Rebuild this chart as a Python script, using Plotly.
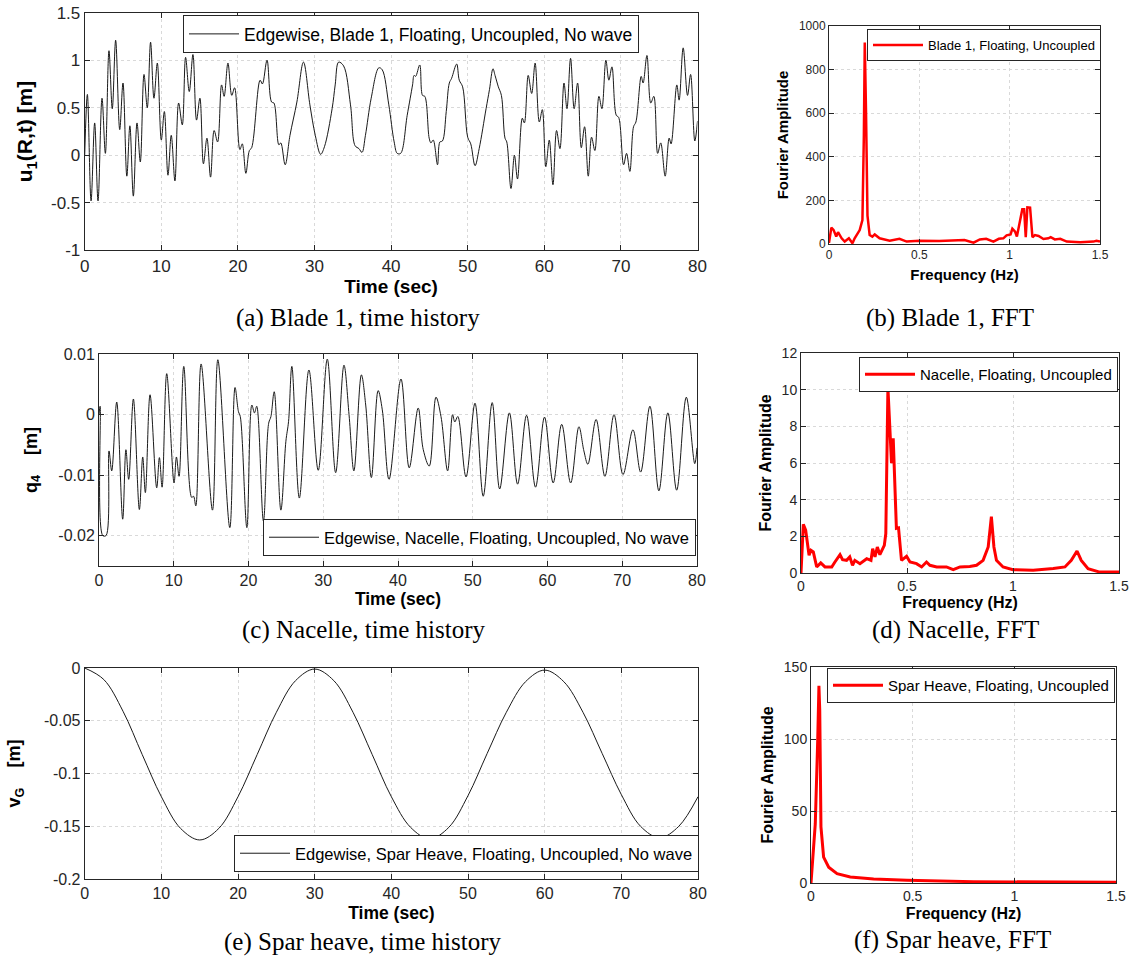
import plotly.graph_objects as go

W, H = 1134, 959

# ---------------- data ----------------
blade_t = [0, 0.35, 0.83, 1.3, 1.74, 2.26, 2.7, 3.17, 3.6, 4.04, 4.57, 5.0, 5.5, 5.9, 6.35, 6.83, 7.26, 7.74,
           8.17, 8.6, 9.04, 9.48, 10.0, 10.4, 10.87, 11.3, 11.78, 12.26, 12.74, 13.17, 13.65, 14.13, 14.6, 15.04,
           15.5, 15.96, 16.43, 16.9, 17.35, 17.87, 18.2, 18.7, 19.2, 19.57, 20.26, 20.57, 21.04, 21.5, 21.8, 22.9,
           23.2, 23.8, 24.4, 24.7, 25.35, 25.6, 26.17, 26.8, 27.7, 28.56, 29.4, 30.1, 30.8, 31.3, 32.3, 32.7,
           33.15, 33.8, 34.7, 35.3, 35.8, 36.2, 36.65, 37.4, 38.4, 38.84, 39.7, 40.4, 40.8, 41.25, 42.1, 42.8,
           43.0, 43.2, 43.74, 44.1, 44.4, 44.97, 45.2, 45.5, 46.06, 46.37, 46.7, 47.2, 47.6, 47.9, 48.56, 48.9,
           49.34, 50.0, 50.4, 50.96, 51.5, 52.4, 52.84, 53.3, 53.57, 54.0, 54.4, 54.87, 55.1, 55.65, 56.1, 56.5,
           57.13, 57.4, 57.9, 58.35, 58.8, 59.35, 59.74, 60.2, 60.65, 61.13, 61.6, 62.04, 62.57, 62.96, 63.43,
           63.9, 64.35, 64.83, 65.26, 65.74, 66.17, 66.6, 67.13, 67.52, 68.04, 68.43, 68.83, 69.4, 69.7, 70.35,
           70.74, 71.17, 71.65, 71.96, 72.65, 72.9, 73.4, 73.9, 74.3, 74.8, 75.2, 75.78, 76.3, 76.55, 77.3, 77.6,
           78.13, 78.7, 79.1, 79.65, 80.0]
blade_u = [0.0, 0.64, -0.48, 0.34, -0.48, 0.60, 0.02, 1.10, 0.49, 1.21, 0.27, 0.76, -0.22, 0.31, -0.43, 0.34,
           -0.07, 0.85, 0.50, 1.19, 0.60, 0.97, 0.16, 0.46, -0.21, 0.21, -0.27, 0.55, 0.32, 1.03, 0.67, 1.06,
           0.37, 0.60, -0.09, 0.18, -0.23, 0.26, 0.14, 0.74, 0.62, 0.97, 0.63, 0.71, 0.06, 0.12, -0.19, 0.05,
           0.08, 0.79, 0.75, 1.00, 0.56, 0.55, 0.11, 0.13, -0.10, 0.21, 0.56, 0.98, 0.53, 0.21, 0.01, 0.09,
           0.49, 0.74, 0.98, 0.94, 0.53, 0.10, 0.07, 0.03, 0.21, 0.60, 0.92, 0.90, 0.53, 0.14, 0.02, 0.02,
           0.42, 0.74, 0.84, 0.83, 0.95, 0.63, 0.62, 0.18, 0.13, 0.16, -0.10, 0.14, 0.15, 0.46, 0.76, 0.81,
           0.96, 0.79, 0.72, 0.19, 0.12, -0.11, 0.07, 0.49, 0.69, 0.91, 0.84, 0.72, 0.63, 0.18, 0.14, -0.35,
           0.00, -0.25, 0.39, 0.34, 0.84, 0.65, 0.97, 0.35, 0.48, -0.12, 0.16, -0.31, 0.26, 0.07, 0.76, 0.49,
           1.02, 0.49, 0.76, 0.08, 0.30, -0.22, 0.19, 0.05, 0.62, 0.49, 1.00, 0.79, 0.93, 0.42, 0.40, -0.10,
           0.02, -0.17, 0.30, 0.35, 0.83, 0.76, 1.05, 0.55, 0.62, 0.02, 0.13, -0.22, 0.18, 0.12, 0.74, 0.58,
           1.13, 0.63, 0.85, 0.15, 0.36]

nacelle_t = [0, 0.15, 0.5, 0.95, 1.34, 1.7, 2.37, 3.17, 3.6, 3.97, 4.6, 5.4, 5.85, 6.2, 6.83, 7.72, 8.08, 8.44,
             9.06, 10.04, 10.36, 10.71, 11.34, 12.4, 12.65, 12.95, 13.66, 15.18, 15.9, 17.5, 18.2, 18.66, 18.9,
             19.78, 20.45, 20.8, 21.1, 22.0, 22.7, 23.0, 23.44, 24.33, 25.0, 25.36, 25.8, 26.8, 28.08, 29.33,
             30.54, 31.66, 32.77, 33.45, 34.1, 35.1, 35.68, 36.44, 37.34, 37.9, 38.8, 40.4, 41.5, 42.7, 43.38,
             44.18, 45.08, 45.75, 46.64, 47.3, 47.6, 48.0, 49.1, 50.3, 51.4, 52.6, 53.6, 54.9, 56.0, 57.2, 58.4,
             59.6, 60.76, 61.9, 63.1, 64.2, 64.87, 65.4, 66.5, 67.68, 68.9, 70.1, 71.43, 72.46, 73.7, 74.9, 76.1,
             77.28, 78.57, 79.7, 80.0]
nacelle_q = [0.0, 0.0014, -0.0200, -0.0200, -0.0060, -0.0093, 0.0021, -0.0173, -0.0058, -0.0107, 0.0026,
             -0.0157, -0.0070, -0.0129, 0.0033, -0.0121, -0.0071, -0.0120, 0.0068, -0.0113, -0.0070, -0.0102,
             0.0080, -0.0137, -0.0135, -0.0151, 0.0084, -0.0158, 0.0091, -0.0187, 0.0045, 0.0005, -0.0003,
             -0.0187, 0.0016, 0.0003, 0.0014, -0.0176, -0.0014, -0.0003, 0.0038, -0.0158, -0.0044, -0.0011,
             0.0080, -0.0138, 0.0074, -0.0092, 0.0092, -0.0096, 0.0082, 0.0000, -0.0093, 0.0066, 0.0016,
             -0.0104, 0.0040, 0.0008, -0.0107, 0.0059, -0.0088, 0.0011, -0.0058, -0.0085, 0.0029, -0.0003,
             -0.0093, 0.0000, -0.0012, -0.0003, -0.0103, 0.0019, -0.0135, 0.0020, -0.0123, 0.0003, -0.0115,
             -0.0001, -0.0120, -0.0004, -0.0113, -0.0016, -0.0113, -0.0020, -0.0060, -0.0082, -0.0008, -0.0102,
             0.0000, -0.0099, -0.0025, -0.0095, 0.0014, -0.0126, 0.0003, -0.0125, 0.0029, -0.0081, -0.0055]

spar_t = [0, 2.5, 5, 7.5, 10, 12.5, 15, 17.5, 20, 22.5, 25, 27.5, 30, 32.5, 35, 37.5, 40, 42.5, 45, 47.5,
          50, 52.5, 55, 57.5, 60, 62.5, 65, 67.5, 70, 72.5, 75, 77.5, 80]
spar_v = [0.0, -0.011, -0.041, -0.082, -0.122, -0.152, -0.163, -0.152, -0.122, -0.082, -0.042, -0.012,
          -0.001, -0.012, -0.042, -0.082, -0.122, -0.151, -0.162, -0.151, -0.121, -0.081, -0.042, -0.013,
          -0.002, -0.013, -0.042, -0.081, -0.120, -0.150, -0.161, -0.150, -0.122]

fft_blade_f = [0, 0.013, 0.025, 0.04, 0.05, 0.07, 0.087, 0.11, 0.13, 0.142, 0.17, 0.185, 0.193, 0.198, 0.205,
               0.213, 0.225, 0.24, 0.253, 0.28, 0.336, 0.39, 0.43, 0.5, 0.61, 0.75, 0.8, 0.835, 0.87, 0.91, 0.94,
               0.965, 0.983, 1.005, 1.015, 1.03, 1.04, 1.057, 1.07, 1.08, 1.089, 1.098, 1.113, 1.126, 1.14, 1.16,
               1.187, 1.214, 1.227, 1.25, 1.28, 1.316, 1.39, 1.464, 1.48, 1.5]
fft_blade_a = [5, 75, 65, 34, 54, 26, 11, 26, 3, 26, 64, 110, 500, 924, 600, 130, 41, 34, 44, 26, 15, 24, 11,
               15, 14, 18, 6, 21, 24, 11, 24, 26, 40, 44, 70, 57, 34, 110, 159, 159, 31, 168, 167, 31, 41, 37,
               23, 26, 31, 21, 24, 11, 8, 11, 15, 11]

fft_nac_f = [0, 0.011, 0.022, 0.038, 0.047, 0.058, 0.074, 0.093, 0.113, 0.145, 0.16, 0.184, 0.196, 0.215,
             0.23, 0.243, 0.254, 0.278, 0.31, 0.33, 0.338, 0.349, 0.36, 0.372, 0.393, 0.4, 0.41, 0.42, 0.427,
             0.435, 0.445, 0.45, 0.46, 0.474, 0.498, 0.514, 0.545, 0.569, 0.592, 0.608, 0.64, 0.686, 0.718, 0.75,
             0.796, 0.828, 0.859, 0.883, 0.898, 0.91, 0.922, 0.953, 1.0, 1.095, 1.19, 1.245, 1.275, 1.302, 1.322,
             1.354, 1.409, 1.5]
fft_nac_a = [0, 2.66, 2.34, 0.97, 1.24, 1.15, 0.33, 0.55, 0.33, 0.33, 0.6, 1.0, 0.73, 0.69, 0.88, 0.42, 0.69,
             0.51, 0.78, 0.69, 1.33, 0.88, 1.42, 1.0, 1.51, 2.15, 10.1, 7.08, 5.99, 7.35, 3.98, 2.43, 2.46, 0.69,
             0.91, 0.6, 0.51, 0.33, 0.6, 0.42, 0.33, 0.33, 0.18, 0.33, 0.36, 0.42, 0.69, 1.42, 3.07, 1.42, 0.69,
             0.33, 0.18, 0.15, 0.24, 0.33, 0.69, 1.2, 0.69, 0.24, 0.05, 0.05]

fft_spar_f = [0, 0.021, 0.033, 0.039, 0.043, 0.049, 0.062, 0.087, 0.128, 0.193, 0.308, 0.472, 0.8, 1.5]
fft_spar_a = [0, 41, 99, 137, 120, 39, 18, 11, 6.5, 4.2, 2.8, 1.9, 0.9, 0.5]

time_ticks = [0, 10, 20, 30, 40, 50, 60, 70, 80]
freq_ticks = [0, 0.5, 1, 1.5]
freq_ticktext = ["0", "0.5", "1", "1.5"]
blade_yticks = [-1, -0.5, 0, 0.5, 1, 1.5]
blade_yticktext = ["-1", "-0.5", "0", "0.5", "1", "1.5"]
nac_yticks = [-0.02, -0.01, 0, 0.01]
nac_yticktext = ["-0.02", "-0.01", "0", "0.01"]
spar_yticks = [-0.2, -0.15, -0.1, -0.05, 0]
spar_yticktext = ["-0.2", "-0.15", "-0.1", "-0.05", "0"]
fb_yticks = [0, 200, 400, 600, 800, 1000]
fn_yticks = [0, 2, 4, 6, 8, 10, 12]
fs_yticks = [0, 50, 100, 150]

names = ["Edgewise, Blade 1, Floating, Uncoupled, No wave",
         "Blade 1, Floating, Uncoupled",
         "Edgewise, Nacelle, Floating, Uncoupled, No wave",
         "Nacelle, Floating, Uncoupled",
         "Edgewise, Spar Heave, Floating, Uncoupled, No wave",
         "Spar Heave, Floating, Uncoupled"]
captions = ["(a) Blade 1, time history", "(b) Blade 1, FFT",
            "(c) Nacelle, time history", "(d) Nacelle, FFT",
            "(e) Spar heave, time history", "(f) Spar heave, FFT"]

# ---------------- layout helpers ----------------
SANS = "Liberation Sans, Arial, Helvetica, sans-serif"
SERIF = "Liberation Serif, Times New Roman, serif"
AX = "#262626"


def xd(l, r):
    return [l / W, r / W]


def yd(t, b):
    return [1 - b / H, 1 - t / H]


def axis(domain, anchor, rng, tv, tt, tsize, title, title_size, standoff):
    return dict(domain=domain, anchor=anchor, range=rng, tickmode="array", tickvals=tv, ticktext=tt,
                showline=True, mirror="ticks", linecolor=AX, linewidth=1, ticks="inside", ticklen=5,
                tickcolor=AX, showgrid=True, gridcolor="#d9d9d9", griddash="dot", gridwidth=1,
                zeroline=False, automargin=False,
                tickfont=dict(family=SANS, size=tsize, color=AX),
                title=dict(text=title, font=dict(family=SANS, size=title_size, color="#000"),
                           standoff=standoff))


fig = go.Figure()

series = [
    (blade_t, blade_u, "x", "y", "legend", "#1a1a1a", 1, "spline"),
    (fft_blade_f, fft_blade_a, "x2", "y2", "legend2", "#ff0000", 2.5, "linear"),
    (nacelle_t, nacelle_q, "x3", "y3", "legend3", "#1a1a1a", 1, "spline"),
    (fft_nac_f, fft_nac_a, "x4", "y4", "legend4", "#ff0000", 3, "linear"),
    (spar_t, spar_v, "x5", "y5", "legend5", "#1a1a1a", 1, "spline"),
    (fft_spar_f, fft_spar_a, "x6", "y6", "legend6", "#ff0000", 3, "linear"),
]
for i, (xs, ys, xa, ya, lg, col, w, shp) in enumerate(series):
    fig.add_trace(go.Scatter(x=xs, y=ys, mode="lines", name=names[i], xaxis=xa, yaxis=ya, legend=lg,
                             showlegend=True,
                             line=dict(color=col, width=w, shape=shp, smoothing=1.0 if shp == "spline" else None)))

time_tt = [str(v) for v in time_ticks]

layout = dict(
    width=W, height=H, margin=dict(l=0, r=0, t=0, b=0), showlegend=True,
    paper_bgcolor="white", plot_bgcolor="white",
    # (a)
    xaxis=axis(xd(84.7, 697.5), "y", [0, 80], time_ticks, time_tt, 17, "<b>Time (sec)</b>", 19, 2),
    yaxis=axis(yd(12.7, 250.3), "x", [-1, 1.5], blade_yticks, blade_yticktext, 17,
               "<b>u<sub>1</sub>(R,t) [m]</b>", 21, 12),
    # (b)
    xaxis2=axis(xd(829, 1100), "y2", [0, 1.5], freq_ticks, freq_ticktext, 12, "<b>Frequency (Hz)</b>", 15, 8),
    yaxis2=axis(yd(26, 244), "x2", [0, 1000], fb_yticks, [str(v) for v in fb_yticks], 12,
                "<b>Fourier Amplitude</b>", 15, 6),
    # (c)
    xaxis3=axis(xd(99, 697), "y3", [0, 80], time_ticks, time_tt, 16, "<b>Time (sec)</b>", 17.5, 4),
    yaxis3=axis(yd(354.3, 565.7), "x3", [-0.025, 0.01], nac_yticks, nac_yticktext, 16,
                "<b>q<sub>4</sub>    [m]</b>", 18, 16),
    # (d)
    xaxis4=axis(xd(801, 1119), "y4", [0, 1.5], freq_ticks, freq_ticktext, 14, "<b>Frequency (Hz)</b>", 16, 2),
    yaxis4=axis(yd(353, 573), "x4", [0, 12], fn_yticks, [str(v) for v in fn_yticks], 14,
                "<b>Fourier Amplitude</b>", 16, 6),
    # (e)
    xaxis5=axis(xd(84.7, 698), "y5", [0, 80], time_ticks, time_tt, 16, "<b>Time (sec)</b>", 17.5, 5),
    yaxis5=axis(yd(668, 879), "x5", [-0.2, 0], spar_yticks, spar_yticktext, 16,
                "<b>v<sub>G</sub>    [m]</b>", 18, 18),
    # (f)
    xaxis6=axis(xd(811, 1116), "y6", [0, 1.5], freq_ticks, freq_ticktext, 14, "<b>Frequency (Hz)</b>", 16, 5),
    yaxis6=axis(yd(667, 883), "x6", [0, 150], fs_yticks, [str(v) for v in fs_yticks], 14,
                "<b>Fourier Amplitude</b>", 16, 6),
)


def leg(x, y, xa, ya, size):
    return dict(x=x / W, y=1 - y / H, xanchor=xa, yanchor=ya, bgcolor="white", bordercolor=AX,
                borderwidth=1, font=dict(family=SANS, size=size, color="#000"), xref="paper", yref="paper",
                visible=True, itemwidth=50)


layout["legend"] = leg(183, 15, "left", "top", 17.5)
layout["legend2"] = leg(1101, 29, "right", "top", 13)
layout["legend3"] = leg(696, 556, "right", "bottom", 16.5)
layout["legend4"] = leg(1118, 357, "right", "top", 15)
layout["legend5"] = leg(699, 872, "right", "bottom", 16.5)
layout["legend6"] = leg(1115, 668, "right", "top", 15)

fig.update_layout(**layout)

cap_pos = [(358, 318), (950, 318), (363, 630), (955, 630), (362, 942), (952, 940)]
for text, (cx, cy) in zip(captions, cap_pos):
    fig.add_annotation(text=text, x=cx / W, y=1 - cy / H, xref="paper", yref="paper", showarrow=False,
                       xanchor="center", yanchor="middle", font=dict(family=SERIF, size=25, color="#000"))

# the page body has a default 8px margin; remove it so the figure sits at the window's corner
fig.write_html("out.html", config={"displayModeBar": False},
               post_script="document.body.style.margin='0px';document.body.style.overflow='hidden';")
